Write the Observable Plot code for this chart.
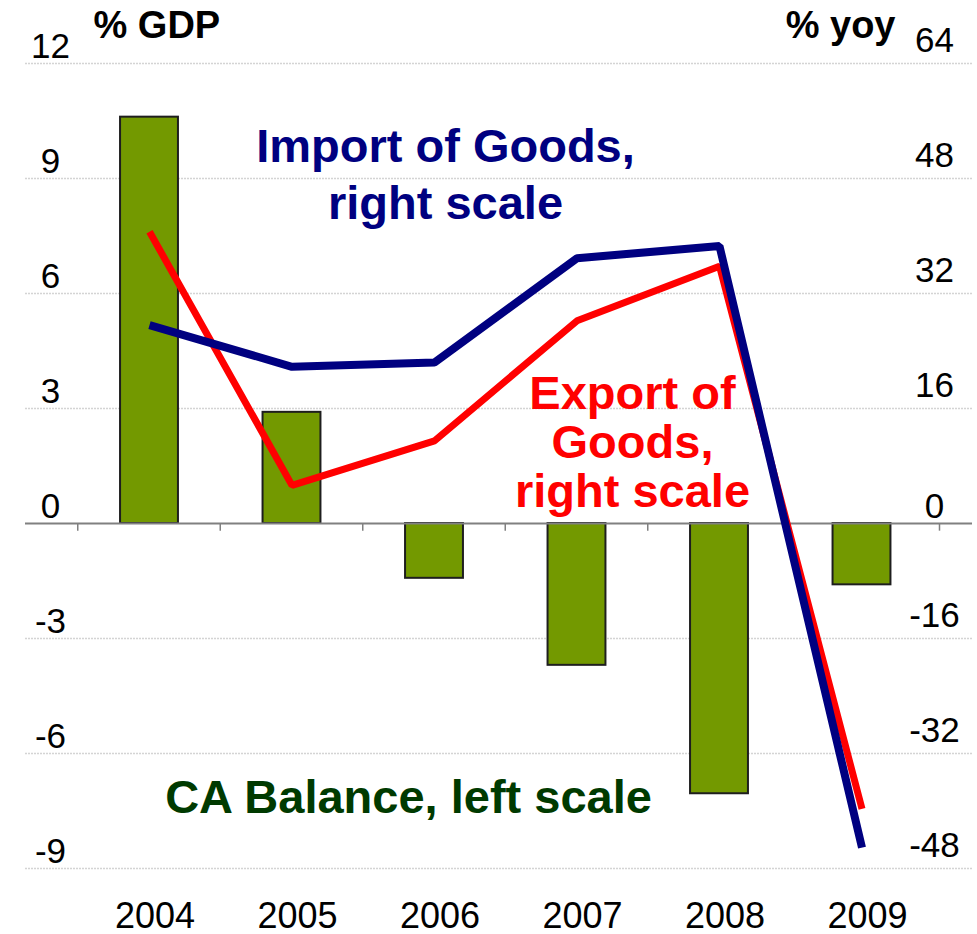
<!DOCTYPE html>
<html>
<head>
<meta charset="utf-8">
<script src="https://cdn.jsdelivr.net/npm/d3@7"></script>
<script src="https://cdn.jsdelivr.net/npm/@observablehq/plot@0.6"></script>
<style>
  html, body { margin: 0; padding: 0; background: white; }
  #chart svg { display: block; }
</style>
</head>
<body>
<div id="chart"></div>
<script>
// ---- Data ----
const years = ["2004", "2005", "2006", "2007", "2008", "2009"];
const caBalance = [10.6, 2.9, -1.43, -3.7, -7.05, -1.6];      // % GDP, left scale
const importGoods = [27.6, 21.8, 22.4, 36.9, 38.6, -45.1];     // % yoy, right scale
const exportGoods = [40.6, 5.3, 11.5, 28.2, 35.8, -39.7];      // % yoy, right scale
const leftTicks = [12, 9, 6, 3, 0, -3, -6, -9];
const rightTicks = [64, 48, 32, 16, 0, -16, -32, -48];

// right scale (-48..64) maps onto left scale (-9..12)
const rightToLeft = v => v * 3 / 16;

const rows = years.map((year, i) => ({
  year, ca: caBalance[i], imp: importGoods[i], exp: exportGoods[i]
}));

const font = "Liberation Sans, Arial, Helvetica, sans-serif";
const x0 = 77.75, x1 = 932.75;
const step = (x1 - x0) / years.length;

const chart = Plot.plot({
  width: 977,
  height: 934,
  marginLeft: 25,
  marginRight: 5,
  marginTop: 63,
  marginBottom: 66,
  style: { fontFamily: font, background: "white", overflow: "visible" },
  x: { type: "band", domain: years, range: [x0, x1], padding: 0, round: false, axis: null },
  y: { domain: [-9, 12], axis: null },
  marks: [
    // gridlines
    Plot.ruleY(leftTicks.filter(v => v !== 0), {
      stroke: "#d4d4d4", strokeWidth: 1.5, strokeDasharray: "2,1"
    }),
    // bars
    Plot.barY(rows, {
      x: "year", y: "ca", fill: "#739900", stroke: "#1e1e1e", strokeWidth: 2,
      insetLeft: 42.3, insetRight: 42.3
    }),
    // zero axis
    Plot.ruleY([0], { stroke: "#808080", strokeWidth: 2 }),
    // category boundary ticks
    Plot.ruleX(years, { x: d => d, y1: 0, y2: -0.2, dx: -step / 2 - 0.5, stroke: "#808080", strokeWidth: 1.5 }),
    Plot.ruleX(years.slice(-1), { x: d => d, y1: 0, y2: -0.2, dx: 77.5, stroke: "#808080", strokeWidth: 1.5 }),
    // lines
    Plot.line(rows, {
      x: "year", y: d => rightToLeft(d.exp), stroke: "#ff0000", strokeWidth: 7,
      strokeLinejoin: "miter", strokeLinecap: "butt"
    }),
    Plot.line(rows, {
      x: "year", y: d => rightToLeft(d.imp), stroke: "#000080", strokeWidth: 8,
      strokeLinejoin: "miter", strokeLinecap: "butt"
    }),
    // left axis labels
    Plot.text(leftTicks, {
      y: d => d, text: d => String(d), frameAnchor: "left", dx: 25,
      textAnchor: "middle", lineAnchor: "bottom", dy: -5.5,
      fontSize: 35, fill: "black"
    }),
    // right axis labels
    Plot.text(rightTicks.filter(v => v !== 0), {
      y: d => rightToLeft(d), text: d => String(d), frameAnchor: "right", dx: -38,
      textAnchor: "middle", lineAnchor: "bottom", dy: -12,
      fontSize: 35, fill: "black"
    }),
    Plot.text([0], {
      y: d => d, text: d => String(d), frameAnchor: "right", dx: -38,
      textAnchor: "middle", lineAnchor: "bottom", dy: -6,
      fontSize: 35, fill: "black"
    }),
    // x axis labels
    Plot.text(years, {
      x: d => d, text: d => d, frameAnchor: "bottom", dx: 5.5, dy: 59,
      lineAnchor: "bottom", textAnchor: "middle", fontSize: 36, fill: "black"
    }),
    // axis titles
    Plot.text(["% GDP"], {
      frameAnchor: "top-left", dx: 68, dy: -26, textAnchor: "start", lineAnchor: "bottom",
      fontSize: 38, fontWeight: "bold", fill: "black"
    }),
    Plot.text(["% yoy"], {
      frameAnchor: "top-right", dx: -77, dy: -26, textAnchor: "end", lineAnchor: "bottom",
      fontSize: 38, fontWeight: "bold", fill: "black"
    }),
    // series annotations
    Plot.text([{ x: "2006", y: 7.94, t: "Import of Goods,\nright scale" }], {
      x: "x", y: "y", text: "t", dx: 11, textAnchor: "middle", lineAnchor: "bottom",
      lineHeight: 1.213, fontSize: 47, fontWeight: "bold", fill: "#000080"
    }),
    Plot.text([{ x: "2007", y: 0.44, t: "Export of\nGoods,\nright scale" }], {
      x: "x", y: "y", text: "t", dx: 55.5, textAnchor: "middle", lineAnchor: "bottom",
      lineHeight: 1.043, fontSize: 47, fontWeight: "bold", fill: "#ff0000"
    }),
    Plot.text([{ x: "2006", y: -7.54, t: "CA Balance, left scale" }], {
      x: "x", y: "y", text: "t", dx: -26, textAnchor: "middle", lineAnchor: "bottom",
      fontSize: 47, fontWeight: "bold", fill: "#003a00"
    })
  ]
});

document.getElementById("chart").appendChild(chart);
</script>
</body>
</html>
